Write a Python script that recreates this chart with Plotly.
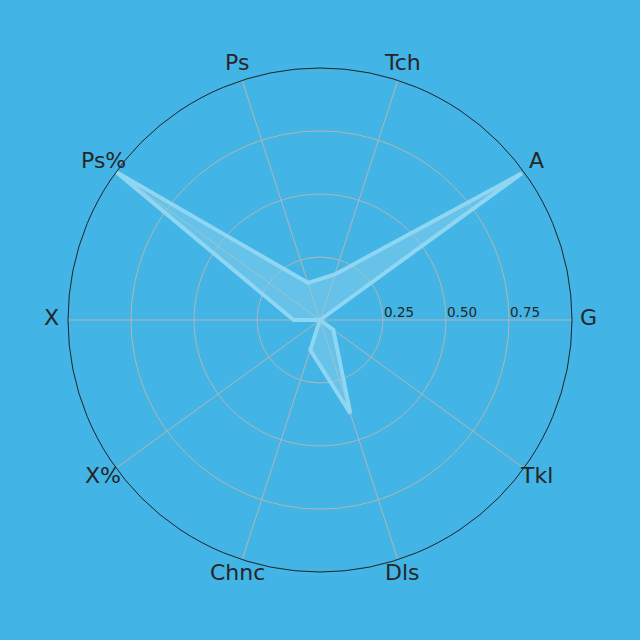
import numpy as np
import plotly.graph_objects as go

categories = ["G", "A", "Tch", "Ps", "Ps%", "X", "X%", "Chnc", "Dls", "Tkl"]
values = [0.0, 0.99, 0.19, 0.155, 1.0, 0.105, 0.0, 0.125, 0.39, 0.065]
tick_vals = [0.25, 0.5, 0.75]
tick_text = ["0.25", "0.50", "0.75"]

bg = "#42b4e6"
r_max = 1.0

fig = go.Figure()
fig.add_trace(go.Scatterpolar(
    r=values + [values[0]],
    theta=categories + [categories[0]],
    mode="lines",
    fill="toself",
    fillcolor="rgba(135,206,235,0.55)",
    line=dict(color="#8fd6f2", width=4),
    hoverinfo="skip",
))

annotations = []
# category labels placed just outside the circle, centred on their spokes
label_r = 0.532
n = len(categories)
for i, cat in enumerate(categories):
    ang = 2 * np.pi * i / n
    annotations.append(dict(
        x=0.5 + label_r * np.cos(ang),
        y=0.5 + label_r * np.sin(ang) + 0.004,
        xref="paper", yref="paper",
        text=cat, showarrow=False,
        xanchor="center", yanchor="middle",
        font=dict(size=22, color="#262626", family="DejaVu Sans"),
    ))

# radial tick labels, left-aligned on their circles, just above the 0° spoke
for v, t in zip(tick_vals, tick_text):
    annotations.append(dict(
        x=0.5 + 0.5 * v / r_max + 0.001,
        y=0.516,
        xref="paper", yref="paper",
        text=t, showarrow=False,
        xanchor="left", yanchor="middle",
        xshift=-2,
        font=dict(size=13.5, color="#262626", family="DejaVu Sans"),
    ))

fig.update_layout(
    width=640, height=640,
    paper_bgcolor=bg,
    plot_bgcolor=bg,
    showlegend=False,
    margin=dict(l=68, r=68, t=68, b=68),
    font=dict(family="DejaVu Sans", color="#262626"),
    annotations=annotations,
    polar=dict(
        bgcolor=bg,
        domain=dict(x=[0, 1], y=[0, 1]),
        angularaxis=dict(
            direction="counterclockwise",
            rotation=0,
            showline=True,
            linecolor="#222222",
            linewidth=1,
            gridcolor="#b5b5b0",
            gridwidth=1,
            ticks="",
            showticklabels=False,
        ),
        radialaxis=dict(
            range=[0, r_max],
            tickvals=tick_vals,
            angle=0,
            showline=False,
            ticks="",
            showticklabels=False,
            gridcolor="#b5b5b0",
            gridwidth=1,
        ),
    ),
)

fig.write_html("out.html")
